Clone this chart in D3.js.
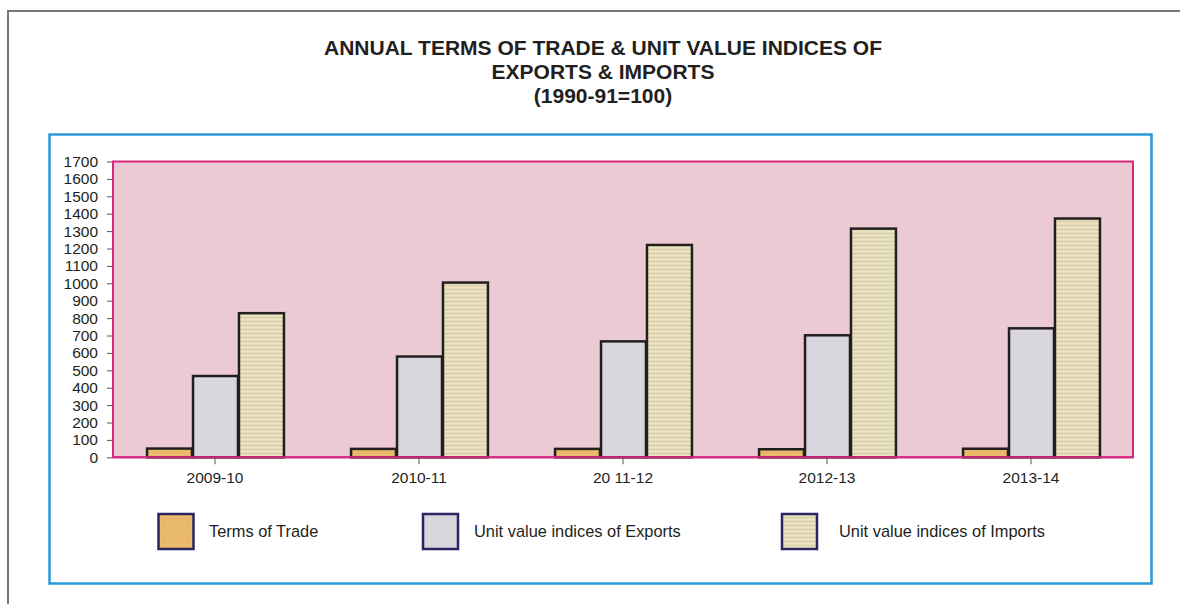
<!DOCTYPE html>
<html>
<head>
<meta charset="utf-8">
<script src="https://cdn.jsdelivr.net/npm/d3@7"></script>
<style>
  html, body { margin: 0; padding: 0; background: #fff; }
  svg { display: block; }
  text { font-family: "Liberation Sans", Arial, sans-serif; fill: #231f20; }
</style>
</head>
<body>
<svg id="chart" width="1180" height="604"></svg>
<script>
// ---- data ----
const categories = ["2009-10", "2010-11", "20 11-12", "2012-13", "2013-14"];
const seriesNames = ["Terms of Trade", "Unit value indices of Exports", "Unit value indices of Imports"];
const termsOfTrade = [56, 54, 54, 52, 55];
const exportsIndex = [473, 585, 672, 707, 747];
const importsIndex = [834, 1010, 1226, 1320, 1378];
const yTicks = [0, 100, 200, 300, 400, 500, 600, 700, 800, 900, 1000, 1100, 1200, 1300, 1400, 1500, 1600, 1700];
const titleLines = ["ANNUAL TERMS OF TRADE & UNIT VALUE INDICES OF", "EXPORTS & IMPORTS", "(1990-91=100)"];

const seriesValues = [termsOfTrade, exportsIndex, importsIndex];

const svg = d3.select("#chart");
const defs = svg.append("defs");

// textures
const pTot = defs.append("pattern").attr("id", "pTot").attr("patternUnits", "userSpaceOnUse")
  .attr("width", 6).attr("height", 6);
pTot.append("rect").attr("width", 6).attr("height", 6).attr("fill", "#e9b96c");
pTot.append("rect").attr("x", 1).attr("y", 2).attr("width", 2).attr("height", 1).attr("fill", "#e2ae5e");
pTot.append("rect").attr("x", 4).attr("y", 4).attr("width", 1).attr("height", 1).attr("fill", "#eec27c");

const pExp = defs.append("pattern").attr("id", "pExp").attr("patternUnits", "userSpaceOnUse")
  .attr("width", 8).attr("height", 8);
pExp.append("rect").attr("width", 8).attr("height", 8).attr("fill", "#d9d6de");
[[1,1,"#cac6d2"],[5,2,"#e6e4ea"],[3,5,"#c9c4d0"],[6,6,"#e4e2e8"],[0,6,"#d0ccd8"],[2,3,"#e3e1e7"],[7,4,"#cdc9d4"]]
  .forEach(d => pExp.append("rect").attr("x", d[0]).attr("y", d[1]).attr("width", 1).attr("height", 1).attr("fill", d[2]));

const pImp = defs.append("pattern").attr("id", "pImp").attr("patternUnits", "userSpaceOnUse")
  .attr("width", 8).attr("height", 4);
pImp.append("rect").attr("width", 8).attr("height", 4).attr("fill", "#e4dcb9");
pImp.append("rect").attr("y", 1).attr("width", 8).attr("height", 1).attr("fill", "#dbd2ac");
pImp.append("rect").attr("y", 3).attr("width", 8).attr("height", 1).attr("fill", "#ebe5c8");

const fills = ["url(#pTot)", "url(#pExp)", "url(#pImp)"];

// outer frame (top and left edges)
svg.append("line").attr("x1", 8).attr("x2", 1180).attr("y1", 11).attr("y2", 11)
  .attr("stroke", "#777").attr("stroke-width", 2);
svg.append("line").attr("x1", 8).attr("x2", 8).attr("y1", 10).attr("y2", 604)
  .attr("stroke", "#777").attr("stroke-width", 2);

// title
const titleY = [55, 79, 103];
svg.append("g").selectAll("text").data(titleLines).join("text")
  .attr("x", 603).attr("y", (d, i) => titleY[i])
  .attr("text-anchor", "middle").attr("font-weight", "bold").attr("font-size", 21)
  .text(d => d);

// blue box
svg.append("rect").attr("x", 49.5).attr("y", 134.5).attr("width", 1102).attr("height", 449)
  .attr("fill", "none").attr("stroke", "#2a9ad6").attr("stroke-width", 2.5);

// scales
const plotL = 113, plotR = 1133, plotT = 161.5, plotB = 457.3;
const x0 = d3.scaleBand().domain(categories).range([plotL, plotR]).paddingInner(0.324).paddingOuter(0.162);
const x1 = d3.scaleBand().domain(seriesNames).range([0, x0.bandwidth()]).padding(0);
const y = d3.scaleLinear().domain([0, 1700]).range([plotB, plotT]);

// plot background
svg.append("rect").attr("x", plotL).attr("y", plotT).attr("width", plotR - plotL).attr("height", plotB - plotT)
  .attr("fill", "#ebcad3").attr("stroke", "#d7297f").attr("stroke-width", 2);

// y axis
const yAxis = d3.axisLeft(y).tickValues(yTicks).tickSize(5).tickPadding(9).tickFormat(d3.format("d"));
const gy = svg.append("g").attr("transform", `translate(${plotL - 1},0)`).call(yAxis);
gy.select(".domain").remove();
gy.selectAll(".tick line").attr("stroke", "#555");
gy.selectAll(".tick text").attr("font-size", 15.5).attr("font-family", "Liberation Sans, Arial, sans-serif")
  .attr("fill", "#231f20");

// x axis
const xAxis = d3.axisBottom(x0).tickSize(6).tickPadding(8);
const gx = svg.append("g").attr("transform", `translate(0,${plotB + 1})`).call(xAxis);
gx.select(".domain").remove();
gx.selectAll(".tick line").attr("stroke", "#555");
gx.selectAll(".tick text").attr("font-size", 15.5).attr("font-family", "Liberation Sans, Arial, sans-serif")
  .attr("fill", "#231f20");

// bars
const groups = svg.append("g").selectAll("g").data(categories).join("g")
  .attr("transform", d => `translate(${x0(d)},0)`);
groups.selectAll("rect")
  .data((c, ci) => seriesNames.map((s, si) => ({ s, si, v: seriesValues[si][ci] })))
  .join("rect")
  .attr("x", d => x1(d.s) + 1)
  .attr("y", d => y(d.v) + 1)
  .attr("width", x1.bandwidth() - 1)
  .attr("height", d => plotB - y(d.v) - 1)
  .attr("fill", d => fills[d.si])
  .attr("stroke", "#231f1f").attr("stroke-width", 2.5);

// redraw baseline over bars
svg.append("line").attr("x1", plotL).attr("x2", plotR).attr("y1", plotB).attr("y2", plotB)
  .attr("stroke", "#d7297f").attr("stroke-width", 2);

// legend
const legendX = [158.5, 423, 782];
const legendTextX = [209, 474, 839];
const lg = svg.append("g").selectAll("g").data(seriesNames).join("g");
lg.append("rect").attr("x", (d, i) => legendX[i]).attr("y", 514).attr("width", 35).attr("height", 35)
  .attr("fill", (d, i) => fills[i]).attr("stroke", "#2e2463").attr("stroke-width", 2.5);
lg.append("text").attr("x", (d, i) => legendTextX[i]).attr("y", 537).attr("font-size", 16.4).text(d => d);
</script>
</body>
</html>
